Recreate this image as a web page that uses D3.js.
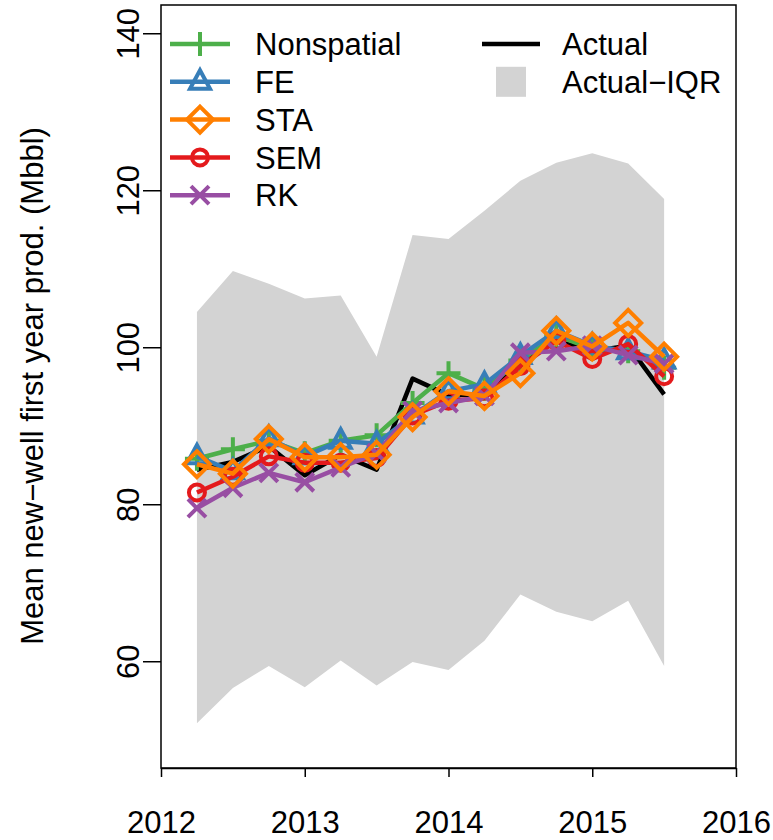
<!DOCTYPE html>
<html>
<head>
<meta charset="utf-8">
<script src="https://cdn.jsdelivr.net/npm/d3@7"></script>
<style>
  body { margin: 0; background: #fff; }
  text { font-family: "Liberation Sans", Arial, Helvetica, sans-serif; fill: #000; }
</style>
</head>
<body>
<svg id="chart"></svg>
<script>
// quarterly points, 2012 Q2 .. 2015 Q3
const QUARTERS = [2012.25, 2012.5, 2012.75, 2013, 2013.25, 2013.5, 2013.75,
                  2014, 2014.25, 2014.5, 2014.75, 2015, 2015.25, 2015.5];

const IQR_LOW  = [52.1, 56.6, 59.4, 56.7, 60.1, 56.9, 59.9, 58.9, 62.6, 68.5, 66.3, 65.1, 67.7, 59.4];
const IQR_HIGH = [104.5, 109.7, 108.1, 106.2, 106.6, 98.8, 114.3, 113.8, 117.4, 121.2, 123.5, 124.7, 123.4, 118.9];

const ACTUAL     = [84.4, 85.4, 87.4, 83.7, 86.3, 84.4, 96.0, 93.9, 94.0, 98.3, 100.8, 99.5, 100.2, 94.0];
const NONSPATIAL = [85.8, 87.0, 88.1, 86.5, 88.1, 88.8, 92.9, 96.7, 94.7, 98.3, 101.5, 99.8, 99.5, 97.4];
const FE         = [86.1, 84.2, 88.4, 86.1, 88.1, 87.7, 91.3, 94.4, 95.3, 98.9, 102.1, 100.2, 99.5, 98.3];
const STA        = [85.1, 83.9, 88.3, 86.0, 86.0, 86.3, 91.1, 94.4, 93.8, 96.7, 102.1, 100.1, 103.1, 98.8];
const SEM        = [81.5, 83.5, 86.1, 85.3, 85.3, 85.9, 91.3, 93.2, 93.5, 97.6, 100.8, 98.5, 100.4, 96.3];
const RK         = [79.5, 82.1, 84.0, 82.8, 84.7, 86.5, 91.9, 92.9, 93.8, 99.3, 99.5, 100.2, 99.0, 97.9];

const X_TICKS = [2012, 2013, 2014, 2015, 2016];
const Y_TICKS = [60, 80, 100, 120, 140];

const WIDTH = 773;
const HEIGHT = 840;
const LEFT = 161, RIGHT = 736, TOP = 5, BOTTOM = 768;
const FONT = "31px";

// draw order: STA ends up on top
const SERIES = [
    { name: "Nonspatial", values: NONSPATIAL, color: "#4DAF4A", pch: "plus" },
    { name: "FE",         values: FE,         color: "#377EB8", pch: "triangle" },
    { name: "SEM",        values: SEM,        color: "#E41A1C", pch: "circle" },
    { name: "RK",         values: RK,         color: "#984EA3", pch: "cross" },
    { name: "STA",        values: STA,        color: "#FF7F00", pch: "diamond" }
];
const LEGEND_ORDER = ["Nonspatial", "FE", "STA", "SEM", "RK"];

const svg = d3.select("#chart").attr("width", WIDTH).attr("height", HEIGHT);

const x = d3.scaleLinear().domain([2012, 2016]).range([LEFT, RIGHT]);
const y = d3.scaleLinear().domain([46.4, 143.6]).range([BOTTOM, TOP]);

// R-like point symbols
function markerPath(pch) {
    switch (pch) {
        case "plus": return "M-12,0H12M0,-12V12";
        case "cross": return "M-9,-9L9,9M-9,9L9,-9";
        case "triangle": return "M0,-11.5L10,7H-10Z";
        case "diamond": return "M0,-13L13,0L0,13L-13,0Z";
        case "circle": return "M8,0A8,8 0 1,1 -8,0A8,8 0 1,1 8,0Z";
    }
}

// IQR band
const band = d3.area()
    .x(function(d, i) { return x(QUARTERS[i]); })
    .y0(function(d, i) { return y(IQR_LOW[i]); })
    .y1(function(d) { return y(d); });

svg.append("path")
    .datum(IQR_HIGH)
    .attr("d", band)
    .attr("fill", "#D3D3D3");

const line = d3.line()
    .x(function(d, i) { return x(QUARTERS[i]); })
    .y(function(d) { return y(d); });

svg.append("path")
    .datum(ACTUAL)
    .attr("d", line)
    .attr("fill", "none")
    .attr("stroke", "#000")
    .attr("stroke-width", 4.5)
    .attr("stroke-linejoin", "round");

SERIES.forEach(function(s) {
    const g = svg.append("g");
    g.append("path")
        .datum(s.values)
        .attr("d", line)
        .attr("fill", "none")
        .attr("stroke", s.color)
        .attr("stroke-width", 4.5)
        .attr("stroke-linejoin", "round");
    g.selectAll("path.pt")
        .data(s.values)
        .enter().append("path")
        .attr("class", "pt")
        .attr("transform", function(d, i) { return "translate(" + x(QUARTERS[i]) + "," + y(d) + ")"; })
        .attr("d", markerPath(s.pch))
        .attr("fill", "none")
        .attr("stroke", s.color)
        .attr("stroke-width", 4);
});

// box
svg.append("rect")
    .attr("x", LEFT).attr("y", TOP)
    .attr("width", RIGHT - LEFT).attr("height", BOTTOM - TOP)
    .attr("fill", "none").attr("stroke", "#000").attr("stroke-width", 1.5);

// axes
const xAxis = svg.append("g")
    .attr("transform", "translate(0," + BOTTOM + ")")
    .call(d3.axisBottom(x).tickValues(X_TICKS).tickFormat(d3.format("d")).tickSize(9).tickSizeOuter(0));
xAxis.select(".domain").attr("stroke-width", 1.5);
xAxis.selectAll(".tick line").attr("stroke-width", 1.5);
xAxis.selectAll("text")
    .attr("y", 65).attr("dy", 0)
    .style("font-size", FONT)
    .style("font-family", "'Liberation Sans', Arial, sans-serif");

const yAxis = svg.append("g")
    .attr("transform", "translate(" + LEFT + ",0)")
    .call(d3.axisLeft(y).tickValues(Y_TICKS).tickSize(18).tickSizeOuter(0));
yAxis.select(".domain").remove();
yAxis.selectAll(".tick line").attr("stroke-width", 1.5);
yAxis.selectAll("text")
    .attr("x", null).attr("dy", 0)
    .attr("transform", "translate(-22,0) rotate(-90)")
    .attr("text-anchor", "middle")
    .style("font-size", FONT)
    .style("font-family", "'Liberation Sans', Arial, sans-serif");

svg.append("text")
    .attr("transform", "translate(43,386) rotate(-90)")
    .attr("text-anchor", "middle")
    .style("font-size", FONT)
    .text("Mean new\u2212well first year prod. (Mbbl)");

// legend, left column
const legend = svg.selectAll(".legend")
    .data(LEGEND_ORDER)
    .enter().append("g")
    .attr("class", "legend")
    .attr("transform", function(d, i) { return "translate(200," + (44 + i * 37.8) + ")"; });

legend.each(function(name) {
    const s = SERIES.find(function(e) { return e.name === name; });
    const g = d3.select(this);
    g.append("line")
        .attr("x1", -30).attr("x2", 30)
        .attr("stroke", s.color).attr("stroke-width", 4.5);
    g.append("path")
        .attr("d", markerPath(s.pch))
        .attr("fill", "none")
        .attr("stroke", s.color)
        .attr("stroke-width", 4);
    g.append("text")
        .attr("x", 55).attr("dy", "0.36em")
        .style("font-size", FONT)
        .text(name);
});

// legend, right column
const right = svg.append("g").attr("transform", "translate(511,44)");
right.append("line")
    .attr("x1", -29).attr("x2", 29)
    .attr("stroke", "#000").attr("stroke-width", 4.5);
right.append("text")
    .attr("x", 51).attr("dy", "0.36em")
    .style("font-size", FONT)
    .text("Actual");
right.append("rect")
    .attr("x", -15).attr("y", 37.8 - 15)
    .attr("width", 30).attr("height", 30)
    .attr("fill", "#D3D3D3");
right.append("text")
    .attr("x", 51).attr("y", 37.8).attr("dy", "0.36em")
    .style("font-size", FONT)
    .text("Actual\u2212IQR");
</script>
</body>
</html>
